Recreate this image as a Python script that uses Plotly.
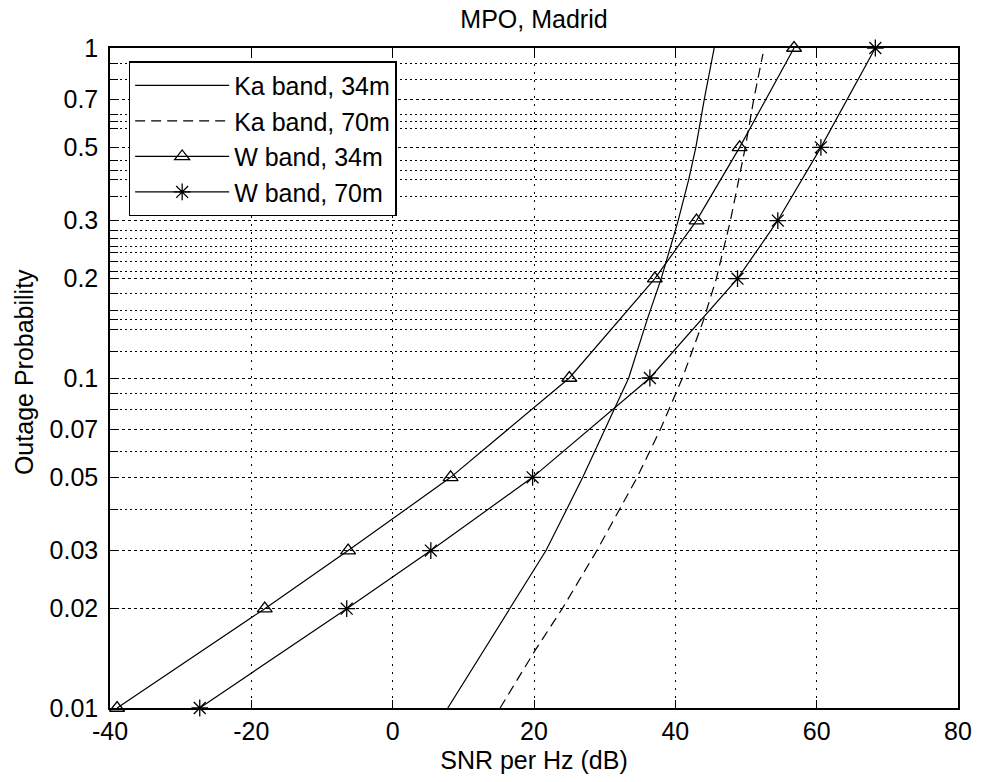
import plotly.graph_objects as go

# Outage probability levels at which the W-band curves were evaluated
w_prob = [0.01, 0.02, 0.03, 0.05, 0.1, 0.2, 0.3, 0.5, 1.0]
w34_snr = [-39.0, -18.1, -6.3, 8.2, 25.0, 37.1, 43.0, 49.1, 56.8]
w70_snr = [-27.3, -6.5, 5.4, 19.8, 36.4, 48.8, 54.5, 60.6, 68.3]

# Ka-band curves (no markers)
ka34_prob = [0.01, 0.02, 0.03, 0.05, 0.07, 0.1, 0.15, 0.2, 0.3, 0.4, 0.5, 0.7, 1.0]
ka34_snr = [7.8, 16.6, 21.7, 26.9, 30.1, 33.4, 36.0, 38.0, 40.4, 41.9, 42.9, 44.1, 45.5]
ka70_prob = [0.01, 0.015, 0.02, 0.03, 0.05, 0.07, 0.1, 0.15, 0.2, 0.3, 0.5, 0.7, 0.96]
ka70_snr = [15.2, 20.2, 24.0, 28.9, 34.6, 37.9, 41.0, 44.0, 45.8, 47.8, 49.9, 51.1, 52.4]

# Axis ticks
x_ticks = [-40, -20, 0, 20, 40, 60, 80]
y_ticks = [0.01, 0.02, 0.03, 0.05, 0.07, 0.1, 0.2, 0.3, 0.5, 0.7, 1]
y_tick_text = ["0.01", "0.02", "0.03", "0.05", "0.07", "0.1", "0.2", "0.3", "0.5", "0.7", "1"]
y_extra_grid = [0.04, 0.06, 0.08, 0.09, 0.12, 0.14, 0.15, 0.16, 0.18, 0.21, 0.225,
                0.24, 0.25, 0.265, 0.28, 0.355, 0.4, 0.425, 0.455, 0.57, 0.6, 0.63,
                0.8, 0.9]

FONT = "Liberation Sans, Arial, sans-serif"
LW = 1.2

fig = go.Figure()
fig.add_trace(go.Scatter(x=ka34_snr, y=ka34_prob, mode="lines", name="Ka band, 34m",
                         line=dict(color="black", width=LW)))
fig.add_trace(go.Scatter(x=ka70_snr, y=ka70_prob, mode="lines", name="Ka band, 70m",
                         line=dict(color="black", width=LW, dash="10px,6px")))
fig.add_trace(go.Scatter(x=w34_snr, y=w_prob, mode="lines+markers", name="W band, 34m",
                         line=dict(color="black", width=LW),
                         marker=dict(symbol="triangle-up-open", size=13,
                                     color="black", line=dict(width=1.3)),
                         cliponaxis=False))
fig.add_trace(go.Scatter(x=w70_snr, y=w_prob, mode="lines+markers", name="W band, 70m",
                         line=dict(color="black", width=LW),
                         marker=dict(symbol="asterisk-open", size=14,
                                     color="black", line=dict(width=1.3, color="black")),
                         cliponaxis=False))

fig.update_layout(
    width=984, height=782,
    margin=dict(l=110, r=16, t=48, b=72),
    paper_bgcolor="white", plot_bgcolor="white",
    font=dict(family=FONT, size=25, color="black"),
    title=dict(text="MPO, Madrid", x=0.5, xanchor="center", xref="paper",
               y=0.975, yanchor="middle", yref="container",
               font=dict(family=FONT, size=25, color="black")),
    showlegend=True,
    legend=dict(x=0.022, y=0.98, xanchor="left", yanchor="top",
                bgcolor="white", bordercolor="black", borderwidth=1.5,
                font=dict(family=FONT, size=25, color="black"),
                itemwidth=94, tracegroupgap=0),
    annotations=[dict(text="Outage Probability", textangle=-90,
                      x=(23 - 110) / 858, xref="paper", xanchor="center",
                      y=0.509, yref="paper", yanchor="middle",
                      showarrow=False, font=dict(family=FONT, size=25, color="black"))],
)

fig.update_xaxes(
    range=[-40, 80], tickvals=x_ticks, ticktext=[str(v) for v in x_ticks],
    showline=True, linecolor="black", linewidth=1.5, mirror="ticks",
    ticks="inside", ticklen=8, tickwidth=1.3, tickcolor="black",
    showgrid=True, gridcolor="black", gridwidth=1, griddash="2px,6px",
    zeroline=False,
    title=dict(text="SNR per Hz (dB)", standoff=8, font=dict(family=FONT, size=25)),
    tickfont=dict(family=FONT, size=25),
)
fig.update_yaxes(
    type="log", range=[-2, 0], tickvals=y_ticks, ticktext=y_tick_text,
    showline=True, linecolor="black", linewidth=1.5, mirror="ticks",
    ticks="inside", ticklen=8, tickwidth=1.3, tickcolor="black",
    showgrid=True, gridcolor="black", gridwidth=1, griddash="3px,3px",
    zeroline=False, ticklabelstandoff=5,
    minor=dict(tickmode="array", tickvals=y_extra_grid, ticks="inside", ticklen=8,
               tickcolor="black", tickwidth=1.3, showgrid=True, gridcolor="black",
               gridwidth=1, griddash="2px,3px"),
    tickfont=dict(family=FONT, size=25),
)

fig.write_html("out.html")
